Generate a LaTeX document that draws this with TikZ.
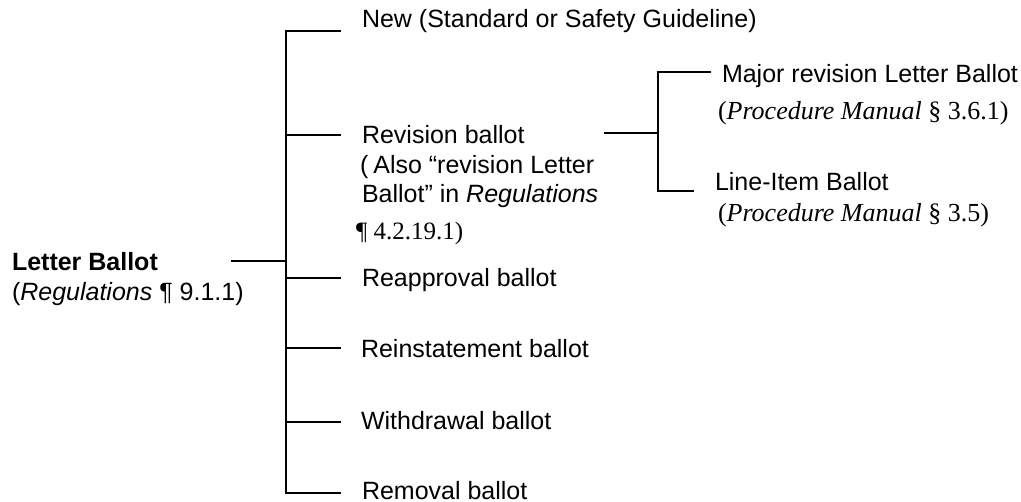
\documentclass[tikz,border=0pt]{standalone}
\usepackage{fontspec}
\setmainfont{Liberation Sans}
\newfontfamily\tms{Liberation Serif}
\begin{document}
\begin{tikzpicture}[x=0.5pt,y=-0.5pt,
  tree/.style={line width=1pt,line cap=rect},
  lbl/.style={anchor=base west,inner sep=0pt,outer sep=0pt,font=\fontsize{12.5}{15}\selectfont},
  tlbl/.style={anchor=base west,inner sep=0pt,outer sep=0pt,font=\tms\fontsize{13}{15}\selectfont}]
\useasboundingbox (0,0) rectangle (1021,502);
% root
\node[lbl] (root) at (12,270) {\bfseries Letter Ballot};
\node[lbl] (rootref) at (12,300) {(\textit{Regulations} ¶ 9.1.1)};
% first level labels
\node[lbl] (new) at (362,28) {New (Standard or Safety Guideline)};
\node[lbl] (rev) at (362,144) {Revision ballot};
\node[lbl] (rev2) at (360,174) {(\kern2.5pt Also “revision Letter};
\node[lbl] (rev3) at (362,203) {Ballot” in \textit{Regulations}};
\node[tlbl,font=\tms\fontsize{12.5}{15}\selectfont] (rev4) at (356,240) {¶ 4.2.19.1)};
\node[lbl] (reap) at (362,286) {Reapproval ballot};
\node[lbl] (rein) at (361,357) {Reinstatement ballot};
\node[lbl] (with) at (361,429) {Withdrawal ballot};
\node[lbl] (remo) at (362,499) {Removal ballot};
% second level labels
\node[lbl] (major) at (722,83) {Major revision Letter Ballot};
\node[tlbl] (majorref) at (718,120) {(\textit{Procedure Manual} § 3.6.1)};
\node[lbl] (line) at (715,191) {Line-Item Ballot};
\node[tlbl] (lineref) at (718,221) {(\textit{Procedure Manual} § 3.5)};
% coordinates of the tree
\coordinate (rootR) at (232,261);
\coordinate (rootJ) at (286,261);
\coordinate (tTop) at (286,31);
\coordinate (tBot) at (286,493);
\coordinate (jRev) at (286,135);
\coordinate (jReap) at (286,278);
\coordinate (jRein) at (286,348);
\coordinate (jWith) at (286,422);
\coordinate (bNew) at (340,31);
\coordinate (bRev) at (340,135);
\coordinate (bReap) at (340,278);
\coordinate (bRein) at (340,348);
\coordinate (bWith) at (340,422);
\coordinate (bRemo) at (340,493);
\coordinate (revR) at (605,133);
\coordinate (sJ) at (658,133);
\coordinate (sTop) at (658,72);
\coordinate (sBot) at (658,191);
\coordinate (bMajor) at (710,72);
\coordinate (bLine) at (693,191);
% connectors
\draw[tree] (rootR) -- (rootJ);
\draw[tree] (bNew) -- (tTop) -- (tBot) -- (bRemo);
\draw[tree] (jRev) -- (bRev);
\draw[tree] (jReap) -- (bReap);
\draw[tree] (jRein) -- (bRein);
\draw[tree] (jWith) -- (bWith);
\draw[tree] (revR) -- (sJ);
\draw[tree] (bMajor) -- (sTop) -- (sBot) -- (bLine);
\end{tikzpicture}
\end{document}
